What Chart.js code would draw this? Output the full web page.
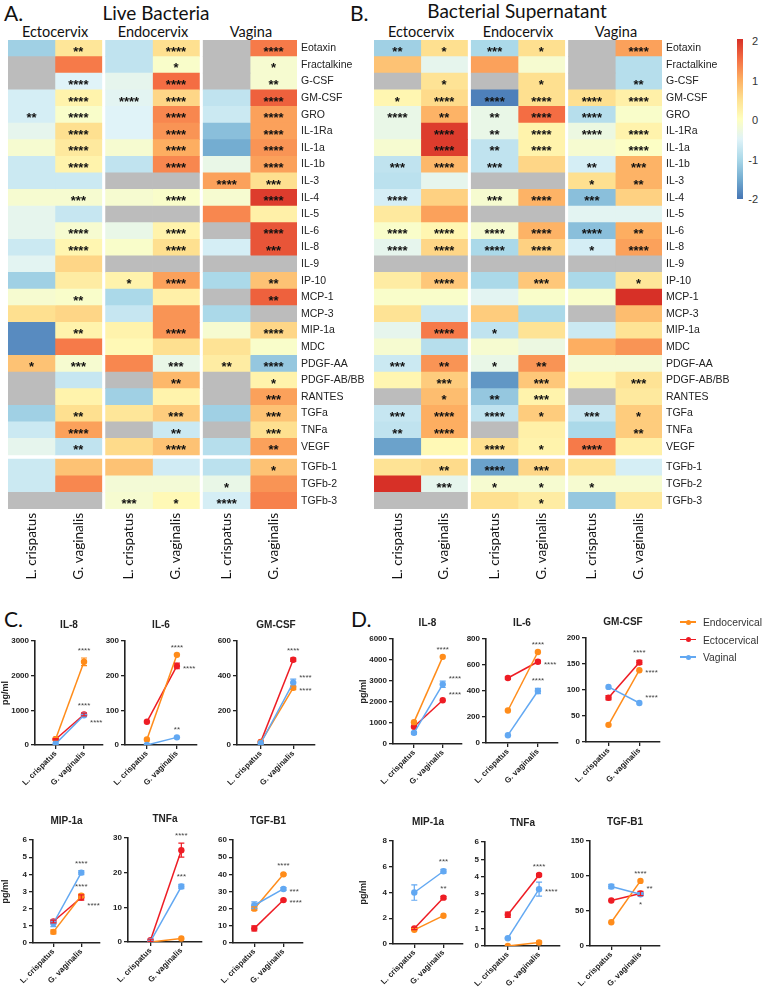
<!DOCTYPE html>
<html>
<head>
<meta charset="utf-8">
<script src="https://cdn.jsdelivr.net/npm/chart.js@4.4.0/dist/chart.umd.min.js"></script>
<style>
  body { margin: 0; background: #fff; }
  #fig { position: relative; width: 762px; height: 991px; overflow: hidden; font-family: "Liberation Sans", Arial, sans-serif; color: #222; }
  #fig canvas { position: absolute; }
  .t { position: absolute; white-space: nowrap; line-height: 1; }
</style>
</head>
<body>
<div id="fig"></div>
<script>
// ---------- heatmap data (A: live bacteria, B: bacterial supernatant) ----------
const N = null;
const rowNames = ['Eotaxin', 'Fractalkine', 'G-CSF', 'GM-CSF', 'GRO', 'IL-1Ra', 'IL-1a', 'IL-1b', 'IL-3', 'IL-4',
  'IL-5', 'IL-6', 'IL-8', 'IL-9', 'IP-10', 'MCP-1', 'MCP-3', 'MIP-1a', 'MDC', 'PDGF-AA', 'PDGF-AB/BB', 'RANTES',
  'TGFa', 'TNFa', 'VEGF', 'TGFb-1', 'TGFb-2', 'TGFb-3'];
const colNames = ['L. crispatus', 'G. vaginalis', 'L. crispatus', 'G. vaginalis', 'L. crispatus', 'G. vaginalis'];
const groupNames = ['Ectocervix', 'Endocervix', 'Vagina'];
const scaleTicks = [2, 1, 0, -1, -2];

// columns: Ecto L, Ecto G, Endo L, Endo G, Vag L, Vag G (null = grey)
const liveVals = [
  [-1.1, 0.4, -0.8, 0.5, N, 1.4],
  [N, 1.4, -0.8, -0.1, N, -0.15],
  [N, -0.5, -0.4, 1.5, N, -0.15],
  [-0.6, 0.2, -0.45, 0.6, -0.8, 1.6],
  [-0.6, -0.1, -0.5, 1.3, -0.7, 1.1],
  [-0.4, 0.5, -0.5, 1.2, -1.3, 1.1],
  [-0.15, 0.35, -0.15, 1.0, -1.5, 1.2],
  [-0.7, 0.2, -0.8, 1.3, -0.35, 1.1],
  [-0.7, -0.7, N, N, 1.1, 0.5],
  [-0.15, -0.15, -0.15, -0.1, -0.15, 1.9],
  [-0.4, -0.75, N, N, 1.3, 0.25],
  [-0.4, -0.15, -0.35, 0.2, N, 1.7],
  [-0.7, 0.15, -0.1, 0.5, -0.6, 1.7],
  [-0.45, 0.6, N, N, N, N],
  [-1.1, 0.3, 0.2, 1.1, -1.0, 0.8],
  [-0.15, -0.1, -1.0, 0.25, N, 1.6],
  [0.5, 0.6, -0.75, 1.2, -1.0, N],
  [-1.8, 0.2, 0.2, 1.2, -0.15, 0.6],
  [-1.8, 1.4, 0.1, 0.5, 0.45, -0.1],
  [0.8, -0.15, 1.3, -0.35, 0.3, -1.2],
  [N, -0.75, N, 0.9, N, 0.2],
  [N, 0.2, -1.1, 0.2, N, 1.1],
  [-1.1, 0.5, 0.4, 0.7, -1.1, 0.8],
  [-0.7, 1.1, N, -0.7, N, 0.5],
  [-0.4, -0.8, 0.55, 0.8, -0.9, 1.1],
  [-0.7, 0.8, 0.8, -0.65, -0.85, 0.8],
  [-0.7, 1.3, -0.2, -0.2, -0.35, 1.2],
  [N, N, -0.15, 0.1, -0.6, 1.35]
];
const liveStars = [
  ['', '**', '', '****', '', '****'],
  ['', '', '', '*', '', '*'],
  ['', '****', '', '****', '', '**'],
  ['', '****', '****', '****', '', '****'],
  ['**', '****', '', '****', '', '****'],
  ['', '****', '', '****', '', '****'],
  ['', '****', '', '****', '', '****'],
  ['', '****', '', '****', '', '****'],
  ['', '', '', '', '****', '***'],
  ['', '***', '', '****', '', '****'],
  ['', '', '', '', '', ''],
  ['', '****', '', '****', '', '****'],
  ['', '****', '', '****', '', '***'],
  ['', '', '', '', '', ''],
  ['', '', '*', '****', '', '**'],
  ['', '**', '', '', '', '**'],
  ['', '', '', '', '', ''],
  ['', '**', '', '****', '', '****'],
  ['', '', '', '', '', ''],
  ['*', '***', '', '***', '**', '****'],
  ['', '', '', '**', '', '*'],
  ['', '', '', '', '', '***'],
  ['', '**', '', '***', '', '***'],
  ['', '****', '', '**', '', '***'],
  ['', '**', '', '****', '', '**'],
  ['', '', '', '', '', '*'],
  ['', '', '', '', '*', ''],
  ['', '', '***', '*', '****', '']
];
const supVals = [
  [-1.1, 0.5, -1.0, 0.5, N, 1.1],
  [0.8, -0.4, 1.1, -0.15, N, -0.9],
  [N, 0.45, N, 0.5, N, -0.9],
  [0.15, 0.55, -1.9, 0.5, 0.5, 0.25],
  [-0.35, 0.95, -0.35, 1.5, -0.9, -0.1],
  [-0.35, 1.9, -0.35, 0.2, -0.3, 0.2],
  [-0.15, 1.9, -0.8, 0.2, -0.15, -0.05],
  [-0.8, 0.9, -0.8, 0.6, -0.6, 0.95],
  [-0.85, -0.4, N, N, 0.5, 0.95],
  [-0.6, 0.65, -0.15, 0.95, -1.3, 0.65],
  [0.35, 1.1, N, N, -0.45, -0.45],
  [-0.1, 0.15, -0.15, 0.95, -1.3, 1.0],
  [-0.4, 0.6, -1.0, 0.65, -0.6, 1.1],
  [N, N, N, N, N, N],
  [0.3, 0.75, -1.0, 0.75, -1.0, 0.4],
  [-0.1, -0.1, -0.45, -0.1, -0.1, 2.0],
  [0.45, -0.75, 0.7, -1.0, N, 0.85],
  [-0.4, 1.4, -0.8, 0.45, -0.7, 0.45],
  [-0.15, -0.9, -0.15, -0.3, 1.0, 1.2],
  [-0.7, 1.2, -0.35, 1.2, -0.2, -0.2],
  [0.15, 0.7, -1.7, 0.75, 0.15, 0.45],
  [N, 0.85, -1.2, 0.2, N, 0.35],
  [-0.75, 1.0, -0.8, 0.7, -0.75, 0.7],
  [-0.8, 1.0, N, 0.25, -1.0, 0.7],
  [-1.6, 0.1, 0.5, 0.2, 1.4, 0.25],
  [0.45, 0.55, -1.6, 0.6, 0.45, -0.6],
  [2.0, -0.4, -0.15, -0.15, -0.15, -0.15],
  [N, N, 0.5, 0.3, -1.2, 0.35]
];
const supStars = [
  ['**', '*', '***', '*', '', '****'],
  ['', '', '', '', '', ''],
  ['', '*', '', '*', '', '**'],
  ['*', '****', '****', '****', '****', '****'],
  ['****', '**', '**', '****', '****', ''],
  ['', '****', '**', '****', '****', '****'],
  ['', '****', '**', '****', '', '****'],
  ['***', '****', '***', '', '**', '***'],
  ['', '', '', '', '*', '**'],
  ['****', '', '***', '****', '***', ''],
  ['', '', '', '', '', ''],
  ['****', '****', '****', '****', '****', '**'],
  ['****', '****', '****', '****', '*', '****'],
  ['', '', '', '', '', ''],
  ['', '****', '', '***', '', '*'],
  ['', '', '', '', '', ''],
  ['', '', '', '', '', ''],
  ['', '****', '*', '', '', ''],
  ['', '', '', '', '', ''],
  ['***', '**', '*', '**', '', ''],
  ['', '***', '', '***', '', '***'],
  ['', '*', '**', '***', '', ''],
  ['***', '****', '****', '*', '***', '*'],
  ['**', '****', '', '', '', '**'],
  ['', '', '****', '*', '****', ''],
  ['', '**', '****', '***', '', ''],
  ['', '***', '*', '*', '*', ''],
  ['', '', '', '*', '', '']
];

// ---------- line chart data (C: live bacteria, D: supernatant) ----------
const lineTitles = ['IL-8', 'IL-6', 'GM-CSF', 'MIP-1a', 'TNFa', 'TGF-B1'];
const groups = ['L. crispatus', 'G. vaginalis'];
const seriesNames = ['Endocervical', 'Ectocervical', 'Vaginal'];

const liveEndo = [[170, 2400], [16, 260], [15, 330], [0.65, 2.75], [0, 1], [20, 40]];
const liveEcto = [[165, 880], [67, 228], [18, 492], [1.25, 2.65], [0.5, 26.5], [8.5, 25]];
const liveVag = [[40, 860], [0, 22], [10, 360], [1.15, 4.1], [0.2, 16], [22, 31.5]];
const liveEndoErr = [[0, 110], [0, 0], [0, 10], [0.12, 0.1], [0, 0], [1, 0.5]];
const liveEctoErr = [[20, 40], [0, 8], [0, 10], [0.08, 0.15], [0.3, 2], [1.5, 0.5]];
const liveVagErr = [[0, 30], [0, 0], [0, 20], [0.2, 0.12], [0, 0.6], [2, 0.8]];
const liveSig = [['****', '****', '****'], ['****', '****', '**'], ['****', '****', '****'],
  ['****', '****', '****'], ['', '****', '***'], ['****', '****', '***']];
const liveMax = [3000, 300, 600, 6, 30, 60];
const liveStep = [1000, 100, 200, 1, 10, 10];

const supEndo = [[1040, 4150], [250, 700], [33, 138], [1.1, 2.2], [0, 0.2], [34, 93]];
const supEcto = [[820, 2080], [500, 625], [85, 153], [1.2, 3.6], [1.8, 4.1], [65, 75]];
const supVag = [[530, 2840], [60, 400], [106, 75], [4.0, 5.65], [0.45, 3.28], [85, 74]];
const supEndoErr = [[0, 0], [0, 0], [0, 0], [0, 0], [0, 0.08], [0, 0]];
const supEctoErr = [[0, 0], [10, 10], [4, 4], [0.08, 0.1], [0.15, 0.08], [0, 3]];
const supVagErr = [[60, 150], [0, 20], [0, 0], [0.6, 0.15], [0.04, 0.4], [3, 2]];
const supSig = [['****', '****', '****'], ['****', '****', '****'], ['****', '****', '****'],
  ['', '**', '***'], ['', '****', '****'], ['****', '*', '**']];
const supMax = [5000, 800, 200, 8, 6, 150];
const supStep = [1000, 200, 50, 2, 1, 50];
const supIL8Ticks = ['0', '1000', '2000', '3000', '4000', '6000'];

// ---------- layout / style ----------
const fig = document.getElementById('fig');
const seriesColours = ['#ff8c1a', '#ee1c24', '#62a8f2'];
const stops = ['#4575b4', '#74add1', '#abd9e9', '#e0f3f8', '#ffffbf', '#fee090', '#fdae61', '#f46d43', '#d73027'];
// where the significance stars go (a above, r right, ra right-up, rb right-down, b below)
const liveSigSide = [['a', 'a', 'rb'], ['a', 'r', 'a'], ['r', 'a', 'ra'], ['a', 'rb', 'a'], ['a', 'a', 'a'], ['a', 'r', 'r']];
const supSigSide = [['a', 'ra', 'ra'], ['a', 'r', 'a'], ['r', 'a', 'ra'], ['a', 'a', 'a'], ['a', 'a', 'r'], ['a', 'b', 'ra']];
const liveBoxes = [[35, 641, 68, 104], [125, 641, 72, 104], [237, 641, 78, 104], [33, 840, 67, 103], [128, 838, 74, 104], [233, 840, 70, 103]];
const supBoxes = [[393, 639, 69, 105], [486, 639, 72, 104], [586, 638, 74, 104], [393, 841, 70, 103], [485, 842, 75, 104], [590, 841, 70, 105]];

function hex(c) { return [1, 3, 5].map(i => parseInt(c.substr(i, 2), 16)); }
function colour(v) {
  if (v === null) return '#bcbcbc';
  const t = (Math.max(-2, Math.min(2, v)) + 2) / 4 * (stops.length - 1);
  const i = Math.min(Math.floor(t), stops.length - 2), f = t - i;
  const a = hex(stops[i]), b = hex(stops[i + 1]);
  return 'rgb(' + a.map((x, k) => Math.round(x + (b[k] - x) * f)).join(',') + ')';
}
const rowPos = i => i + (i >= 25 ? 0.25 : 0);
const colStart = j => j + Math.floor(j / 2) * 0.08;

function addText(s, x, y, css, align) {
  const d = document.createElement('div');
  d.className = 't';
  d.textContent = s;
  d.style.cssText += css;
  d.style.left = x + 'px';
  d.style.top = y + 'px';
  d.style.transform = align === 'left' ? 'translate(0,-50%)' : align === 'right' ? 'translate(-100%,-50%)' : 'translate(-50%,-50%)';
  fig.appendChild(d);
  return d;
}
function addCanvas(l, t, w, h) {
  const c = document.createElement('canvas');
  c.width = w; c.height = h;
  c.style.left = l + 'px'; c.style.top = t + 'px';
  c.style.width = w + 'px'; c.style.height = h + 'px';
  fig.appendChild(c);
  return c;
}

Chart.defaults.font.family = '"Liberation Sans", Arial, sans-serif';
Chart.defaults.color = '#222';

// stars inside heatmap cells
const cellStars = {
  id: 'cellStars',
  afterDatasetsDraw(chart) {
    const ctx = chart.ctx;
    ctx.save();
    ctx.font = 'bold 13px "Liberation Sans", Arial';
    ctx.fillStyle = '#111';
    ctx.textAlign = 'center';
    ctx.textBaseline = 'alphabetic';
    chart.data.datasets.forEach((ds, j) => {
      const meta = chart.getDatasetMeta(j);
      ds.stars.forEach((s, i) => {
        if (!s) return;
        const bar = meta.data[i];
        ctx.fillText(s, (bar.x + bar.base) / 2, bar.y + 7.5);
      });
    });
    ctx.restore();
  }
};

function heatmap(left, width, padLeft, yw, vals, stars) {
  const cv = addCanvas(left, 0, width, 590);
  const datasets = colNames.map((c, j) => ({
    label: c,
    data: vals.map((r, i) => ({ y: rowPos(i), x: [colStart(j), colStart(j) + 1] })),
    backgroundColor: vals.map(r => colour(r[j])),
    stars: stars.map(r => r[j])
  }));
  new Chart(cv, {
    type: 'bar',
    data: { datasets },
    options: {
      indexAxis: 'y',
      responsive: false,
      animation: false,
      devicePixelRatio: 1,
      layout: { padding: { left: padLeft, top: 40, right: 0, bottom: 0 } },
      datasets: { bar: { grouped: false, barPercentage: 1, categoryPercentage: 1, borderWidth: 0 } },
      plugins: { legend: { display: false }, tooltip: { enabled: false } },
      scales: {
        y: {
          type: 'linear', position: 'right', reverse: true, offset: false,
          min: -0.5, max: rowPos(rowNames.length - 1) + 0.5,
          grid: { display: false, drawTicks: false }, border: { display: false },
          afterBuildTicks: s => { s.ticks = rowNames.map((n, i) => ({ value: rowPos(i) })); },
          afterFit: s => { s.width = yw; },
          ticks: { autoSkip: false, padding: 4, font: { size: 10.5 }, color: '#222', callback: (v, i) => rowNames[i] }
        },
        x: {
          type: 'linear', min: 0, max: colStart(5) + 1,
          grid: { display: false, drawTicks: false }, border: { display: false },
          afterBuildTicks: s => { s.ticks = colNames.map((n, j) => ({ value: colStart(j) + 0.5 })); },
          afterFit: s => { s.height = 81; },
          ticks: { autoSkip: false, minRotation: 90, maxRotation: 90, padding: 4,
            font: { family: 'Lato', size: 13.5 }, color: '#111', callback: (v, i) => colNames[i] }
        }
      }
    },
    plugins: [cellStars]
  });
}

// error bars + significance stars on line charts
const markExtras = {
  id: 'markExtras',
  afterDatasetsDraw(chart) {
    const { ctx, scales: { x, y } } = chart;
    ctx.save();
    chart.data.datasets.forEach(ds => {
      ctx.strokeStyle = ds.borderColor;
      ctx.lineWidth = 1.2;
      ds.data.forEach((p, i) => {
        const e = ds.err[i];
        if (!e) return;
        const px = x.getPixelForValue(p.x), t = y.getPixelForValue(p.y + e), b = y.getPixelForValue(p.y - e);
        ctx.beginPath();
        ctx.moveTo(px, t); ctx.lineTo(px, b);
        ctx.moveTo(px - 3, t); ctx.lineTo(px + 3, t);
        ctx.moveTo(px - 3, b); ctx.lineTo(px + 3, b);
        ctx.stroke();
      });
      if (!ds.sig) return;
      const p = ds.data[1];
      const px = x.getPixelForValue(p.x);
      const py = y.getPixelForValue(p.y + ds.err[1]);
      ctx.fillStyle = '#444';
      ctx.font = '8px "Liberation Sans", Arial';
      ctx.textBaseline = 'alphabetic';
      const side = ds.side;
      if (side === 'a' || side === 'b') {
        ctx.textAlign = 'center';
        ctx.fillText(ds.sig, px, side === 'a' ? py - 5 : y.getPixelForValue(p.y) + 13);
      } else {
        ctx.textAlign = 'left';
        const py0 = y.getPixelForValue(p.y);
        ctx.fillText(ds.sig, px + 6, py0 + (side === 'ra' ? -3 : side === 'rb' ? 10 : 5));
      }
    });
    ctx.restore();
  }
};

function lineChart(box, k, title, endo, ecto, vag, errs, sig, side, max, step, tickLabels, yTitle) {
  const yw = yTitle ? box[0] - (box[0] < 100 ? 0 : 358) : 30;
  const padTop = 16, xh = 50, padRight = 30;
  const cv = addCanvas(box[0] - yw, box[1] - padTop, yw + box[2] + padRight, padTop + box[3] + xh);
  const rows = [[vag, errs[2], 2], [endo, errs[0], 0], [ecto, errs[1], 1]];
  const datasets = rows.map(([vals, err, s]) => ({
    label: seriesNames[s],
    data: groups.map((g, i) => ({ x: i + 1, y: vals[k][i] })),
    err: err[k],
    sig: sig[k][s],
    side: side[k][s],
    borderColor: seriesColours[s],
    backgroundColor: seriesColours[s],
    borderWidth: 1.5,
    pointRadius: 3.2,
    pointBorderWidth: 0
  }));
  const axisGrid = { display: true, drawOnChartArea: false, drawTicks: true, tickLength: 4, color: '#222', lineWidth: 1.3 };
  const axisBorder = { color: '#222', width: 1.6 };
  new Chart(cv, {
    type: 'line',
    data: { datasets },
    options: {
      responsive: false,
      animation: false,
      devicePixelRatio: 1,
      layout: { padding: { top: padTop, right: padRight, left: 0, bottom: 0 } },
      plugins: { legend: { display: false }, tooltip: { enabled: false } },
      scales: {
        x: {
          type: 'linear', min: 0.27, max: 2.67,
          grid: axisGrid, border: axisBorder,
          afterBuildTicks: s => { s.ticks = groups.map((g, i) => ({ value: i + 1 })); },
          afterFit: s => { s.height = xh; },
          ticks: { autoSkip: false, minRotation: 45, maxRotation: 45, padding: 0,
            font: { size: 8, weight: 'bold' }, color: '#222', callback: (v, i) => groups[i] }
        },
        y: {
          min: 0, max: max,
          grid: axisGrid, border: axisBorder,
          afterFit: s => { s.width = yw; },
          title: { display: !!yTitle, text: 'pg/ml', font: { size: 9, weight: 'bold' }, padding: 0, color: '#222' },
          ticks: { stepSize: step, padding: 2, font: { size: 8, weight: 'bold' }, color: '#222',
            callback: (v, i) => tickLabels ? tickLabels[i] : String(v) }
        }
      }
    },
    plugins: [markExtras]
  });
  const titleY = box[1] < 700 ? box[1] - 17 : box[1] - 20;
  addText(title, box[0] + box[2] / 2, titleY, 'font:bold 10px "Liberation Sans",Arial;color:#222;');
}

// ---------- panels A & B ----------
addText('A.', 4, 12, 'font:21px Lato;color:#111;', 'left');
addText('Live Bacteria', 156, 12, 'font:19px Lato;color:#111;');
addText('B.', 350, 12, 'font:21px Lato;color:#111;', 'left');
addText('Bacterial Supernatant', 517, 10, 'font:19px Lato;color:#111;');
[[55, 153, 251], [421, 518, 616]].forEach(cs => cs.forEach((cx, g) =>
  addText(groupNames[g], cx, 31, 'font:14.5px Lato;color:#111;')));

heatmap(0, 365, 8, 68, liveVals, liveStars);
heatmap(365, 370, 9, 73, supVals, supStars);

// colour scale
const bar = document.createElement('div');
bar.style.cssText = 'position:absolute;left:737px;top:39px;width:6px;height:160px;background:linear-gradient(to top,' + stops.join(',') + ');';
fig.appendChild(bar);
scaleTicks.forEach((v, i) => addText(String(v), 758, 41 + i * 39.5, 'font:11px "Liberation Sans",Arial;color:#333;', 'right'));

// ---------- panels C & D ----------
addText('C.', 4, 618, 'font:21px Lato;color:#111;', 'left');
addText('D.', 351, 618, 'font:21px Lato;color:#111;', 'left');

lineTitles.forEach((title, k) => {
  lineChart(liveBoxes[k], k, title, liveEndo, liveEcto, liveVag, [liveEndoErr, liveEctoErr, liveVagErr],
    liveSig, liveSigSide, liveMax[k], liveStep[k], null, k % 3 === 0);
  lineChart(supBoxes[k], k, title, supEndo, supEcto, supVag, [supEndoErr, supEctoErr, supVagErr],
    supSig, supSigSide, supMax[k], supStep[k], k === 0 ? supIL8Ticks : null, k % 3 === 0);
});

// legend
seriesNames.forEach((name, s) => {
  const y = 622 + s * 17.5;
  const ln = document.createElement('div');
  ln.style.cssText = 'position:absolute;left:680px;top:' + (y - 0.75) + 'px;width:16px;height:1.5px;background:' + seriesColours[s] + ';';
  fig.appendChild(ln);
  const dot = document.createElement('div');
  dot.style.cssText = 'position:absolute;left:685.5px;top:' + (y - 2.5) + 'px;width:5px;height:5px;border-radius:50%;background:' + seriesColours[s] + ';';
  fig.appendChild(dot);
  addText(name, 703, y, 'font:10.3px "Liberation Sans",Arial;color:#333;', 'left');
});
</script>
</body>
</html>
